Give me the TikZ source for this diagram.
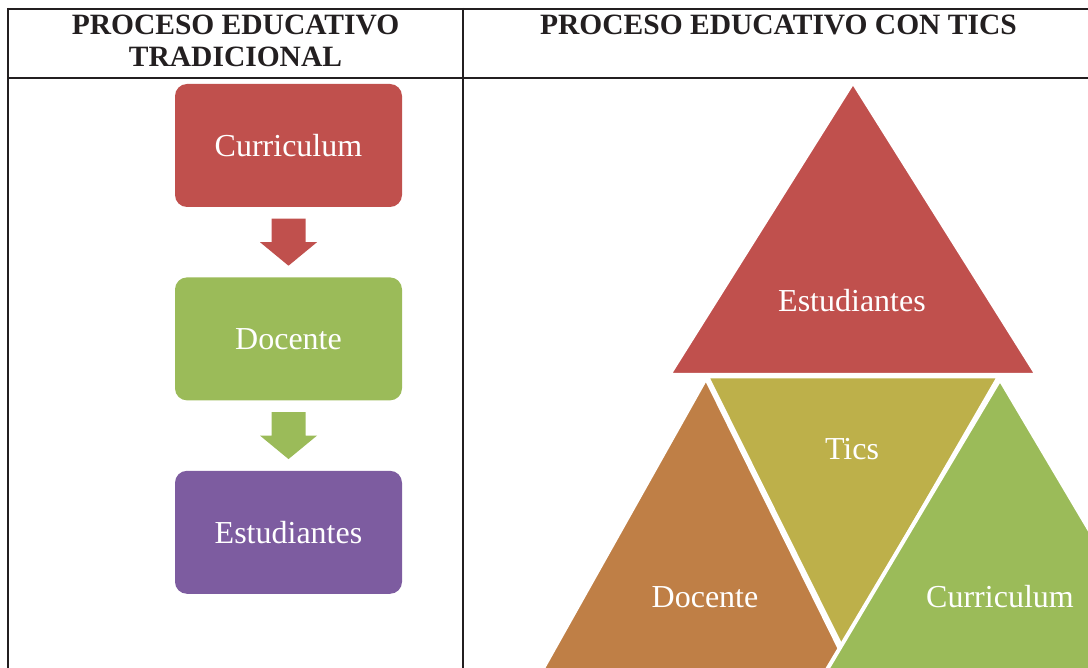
\documentclass[tikz,border=0pt]{standalone}
\usepackage{fontspec}
\setmainfont{Liberation Serif}
\usetikzlibrary{positioning,calc}

\definecolor{boxred}{HTML}{C0504D}
\definecolor{boxgreen}{HTML}{9BBB59}
\definecolor{boxpurple}{HTML}{7D5CA0}
\definecolor{tribrown}{HTML}{BF7F46}
\definecolor{triolive}{HTML}{BDB04A}
\definecolor{rulecol}{HTML}{231F20}

\begin{document}
\begin{tikzpicture}[x=1pt, y=-1pt,
    head/.style={anchor=north, inner sep=0pt, align=center, text=rulecol,
        font=\fontsize{29.5}{32}\selectfont\bfseries},
    stage/.style={rectangle, rounded corners=12pt, minimum width=227pt,
        minimum height=123pt, text=white, font=\fontsize{32}{36}\selectfont},
    lbl/.style={text=white, font=\fontsize{32}{36}\selectfont},
    tri/.style={draw=white, line width=4pt}]

    \useasboundingbox (0,0) rectangle (1088,668);

    % Table
    \draw[rulecol, line width=2.2pt] (8,9) -- (1088,9);
    \draw[rulecol, line width=2.2pt] (8,78) -- (1088,78);
    \draw[rulecol, line width=2.2pt] (8,8) -- (8,668);
    \draw[rulecol, line width=2.2pt] (463,8) -- (463,668);

    % Headers
    \node[head] (hleft) at (235.5,15) {PROCESO EDUCATIVO\\TRADICIONAL};
    \node[head] (hright) at (778.5,15) {PROCESO EDUCATIVO CON TICS};

    % Nodes
    \node[stage, fill=boxred] (cur) at (288.5,145.5) {Curriculum};
    \node[stage, fill=boxgreen, below=70pt of cur] (doc) {Docente};
    \node[stage, fill=boxpurple, below=70pt of doc] (est) {Estudiantes};

    % Arrows
    \path (cur.south) -- (doc.north) coordinate[midway] (m1);
    \fill[boxred] ($(m1)+(-17,-23.5)$) -- ++(34,0) -- ++(0,23.5) -- ++(11.5,0)
        -- ++(-28.5,23.5) -- ++(-28.5,-23.5) -- ++(11.5,0) -- cycle;
    \path (doc.south) -- (est.north) coordinate[midway] (m2);
    \fill[boxgreen] ($(m2)+(-17,-23.5)$) -- ++(34,0) -- ++(0,23.5) -- ++(11.5,0)
        -- ++(-28.5,23.5) -- ++(-28.5,-23.5) -- ++(11.5,0) -- cycle;

    % Triangles
    \begin{scope}
        \clip (464,79.5) rectangle (1088,668);
        \filldraw[tri, fill=boxred] (853,82) -- (1037,375) -- (669,375) -- cycle;
        \filldraw[tri, fill=triolive] (707,376.5) -- (999,376.5) -- (842,648) -- cycle;
        \filldraw[tri, fill=tribrown] (706,378) -- (875,720) -- (514,720) -- cycle;
        \filldraw[tri, fill=boxgreen] (1000,379) -- (1202,720) -- (797,720) -- cycle;
    \end{scope}

    % Labels
    \node[lbl] (test) at (852,301) {Estudiantes};
    \node[lbl] (ttic) at (852,449) {Tics};
    \node[lbl] (tdoc) at (705,597) {Docente};
    \node[lbl] (tcur) at (1000,597) {Curriculum};
\end{tikzpicture}
\end{document}
